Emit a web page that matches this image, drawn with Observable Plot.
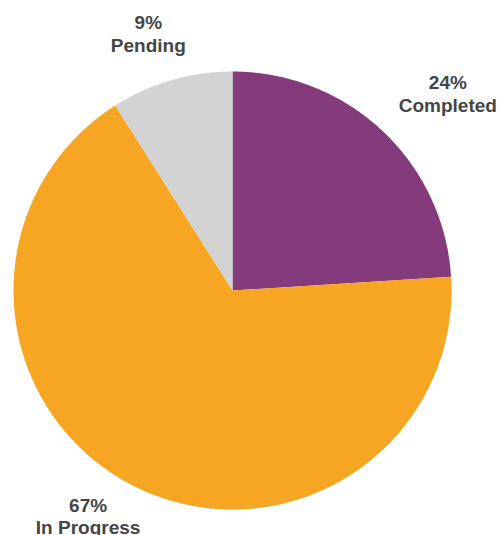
<!DOCTYPE html>
<html>
<head>
<meta charset="utf-8">
<script src="https://cdn.jsdelivr.net/npm/d3@7"></script>
<script src="https://cdn.jsdelivr.net/npm/@observablehq/plot@0.6"></script>
<style>
  html, body { margin: 0; padding: 0; background: #fff; }
  #chart svg { overflow: visible; }
</style>
</head>
<body>
<div id="chart"></div>
<script>
const categories = ["Completed", "In Progress", "Pending"];
const values = [24, 67, 9];
const colors = ["#843b7b", "#f6a623", "#d3d3d3"];

const W = 501, H = 535;
const mL = 13, mR = 50, mT = 71, mB = 26;
const rPx = (W - mL - mR) / 2;
const fontSize = 19;
const lineHeight = 1.18;
const fontFamily = "'Liberation Sans', Arial, Helvetica, sans-serif";

const pie = d3.pie().sort(null).value(d => d.value)(
  categories.map((c, i) => ({category: c, value: values[i], color: colors[i]}))
);
const total = d3.sum(values);

// slice polygons
const polys = [];
for (const a of pie) {
  const n = Math.max(2, Math.ceil((a.endAngle - a.startAngle) / (Math.PI / 360)));
  polys.push({k: a.data.category, x: 0, y: 0, color: a.data.color});
  for (let j = 0; j <= n; j++) {
    const t = a.startAngle + (a.endAngle - a.startAngle) * j / n;
    polys.push({k: a.data.category, x: Math.sin(t), y: Math.cos(t), color: a.data.color});
  }
  polys.push({k: a.data.category, x: 0, y: 0, color: a.data.color});
}

// labels outside the pie, pushed out by their width
const ctx = document.createElement("canvas").getContext("2d");
ctx.font = `bold ${fontSize}px ${fontFamily}`;
const labels = pie.map(a => {
  const mid = (a.startAngle + a.endAngle) / 2;
  const ux = Math.sin(mid), uy = Math.cos(mid);
  const pct = Math.round(a.data.value / total * 100) + "%";
  const w = Math.max(ctx.measureText(pct).width, ctx.measureText(a.data.category).width);
  const R0 = 1.19 * rPx;
  return {
    x: ux * (R0 + 0.55 * w) / rPx,
    y: uy * R0 / rPx,
    text: pct + "\n" + a.data.category
  };
});

const chart = Plot.plot({
  width: W,
  height: H,
  marginLeft: mL, marginRight: mR, marginTop: mT, marginBottom: mB,
  x: {domain: [-1, 1], axis: null},
  y: {domain: [-1, 1], axis: null},
  style: {fontFamily, background: "#fff"},
  marks: [
    Plot.line(polys, {x: "x", y: "y", z: "k", fill: "color", stroke: "none", curve: "linear"}),
    Plot.text(labels, {
      x: "x", y: "y", text: "text", dy: -7,
      fontSize, fontWeight: "bold", fill: "#454545",
      lineHeight, lineAnchor: "middle", textAnchor: "middle"
    })
  ]
});
document.getElementById("chart").appendChild(chart);
</script>
</body>
</html>
